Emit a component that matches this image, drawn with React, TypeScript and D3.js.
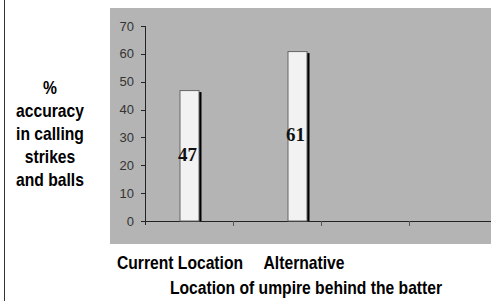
import React from 'react';
import * as d3 from 'd3';

// values
const categories = ['Current Location', 'Alternative'];
const accuracy = [47, 61];
const yTicks = [0, 10, 20, 30, 40, 50, 60, 70];
const slotTicks = [0, 1, 2, 3, 4];
const yTitleLines = ['%', 'accuracy', 'in calling', 'strikes', 'and balls'];
const xTitle = 'Location of umpire behind the batter';

const W = 491;
const H = 301;
const titleFont = '"Liberation Sans", Arial, sans-serif';
const squeeze = 0.895; // the original uses a condensed bold face

// bold condensed-looking label, squeezed horizontally around its anchor
const Narrow = ({ x, y, children }: { x: number; y: number; children: React.ReactNode }) => (
  <text
    transform={`translate(${x},${y}) scale(${squeeze},1)`}
    textAnchor="middle"
    fontFamily={titleFont}
    fontWeight="bold"
    fontSize={17.5}
    fill="#000"
  >
    {children}
  </text>
);

const App = () => {
  const y = d3.scaleLinear().domain([0, 70]).range([221, 26]);
  const slot = d3.scaleLinear().domain([0, 4]).range([145, 497]);
  const barX = d3.scalePoint<string>().domain(categories).range([189, 297]);
  const labelX = d3.scalePoint<string>().domain(categories).range([180, 304]);
  const barW = 19;

  return (
    <svg width={W} height={H} style={{ position: 'fixed', left: 0, top: 0, background: '#fff' }}>
      {/* left border */}
      <line x1={4.5} x2={4.5} y1={0} y2={H} stroke="#333" />

      {/* plot area */}
      <rect x={110} y={8} width={W - 110} height={236} fill="#b4b4b4" />

      {/* y axis */}
      <line x1={slot(0) + 0.5} x2={slot(0) + 0.5} y1={y(70)} y2={y(0) + 4} stroke="#222" />
      {yTicks.map((t) => (
        <g key={t}>
          <line x1={slot(0) - 4} x2={slot(0)} y1={Math.round(y(t)) + 0.5} y2={Math.round(y(t)) + 0.5} stroke="#222" />
          <text
            x={slot(0) - 11}
            y={y(t) + 4.5}
            textAnchor="end"
            fontFamily='"Liberation Sans", Arial, sans-serif'
            fontSize={13}
            fill="#333"
          >
            {t}
          </text>
        </g>
      ))}

      {/* x axis */}
      <line x1={slot(0)} x2={W} y1={Math.round(y(0)) + 0.5} y2={Math.round(y(0)) + 0.5} stroke="#222" />
      {slotTicks.slice(1).map((t) => (
        <line key={t} x1={slot(t) + 0.5} x2={slot(t) + 0.5} y1={y(0)} y2={y(0) + 5} stroke="#555" />
      ))}

      {/* bars */}
      {categories.map((c, i) => {
        const cx = barX(c) as number;
        const top = y(accuracy[i]);
        return (
          <g key={c}>
            <rect x={cx + barW / 2} y={top + 2} width={3} height={y(0) - top - 2} fill="#000" />
            <rect
              x={cx - barW / 2 + 0.5}
              y={top + 0.5}
              width={barW}
              height={y(0) - top - 0.5}
              fill="#f2f2f2"
              stroke="#666"
              strokeWidth={1}
            />
            <text
              x={cx - 1.5}
              y={y(accuracy[i] / 2) + 5}
              textAnchor="middle"
              fontFamily='"Liberation Serif", "Times New Roman", serif'
              fontWeight="bold"
              fontSize={19}
              fill="#111"
            >
              {accuracy[i]}
            </text>
          </g>
        );
      })}

      {/* y title */}
      {yTitleLines.map((line, i) => (
        <Narrow key={line} x={50} y={94 + i * 23}>
          {line}
        </Narrow>
      ))}

      {/* category labels */}
      {categories.map((c) => (
        <Narrow key={c} x={labelX(c) as number} y={269}>
          {c}
        </Narrow>
      ))}

      {/* x title */}
      <Narrow x={306} y={294}>
        {xTitle}
      </Narrow>
    </svg>
  );
};

export default App;
